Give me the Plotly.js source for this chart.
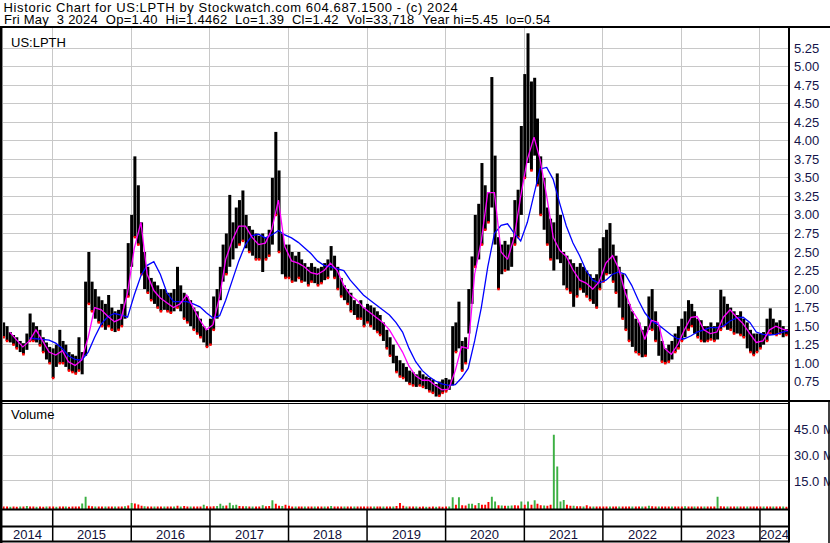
<!DOCTYPE html>
<html><head><meta charset="utf-8">
<script src="https://cdn.plot.ly/plotly-3.0.1.min.js"></script>
<style>
html,body{margin:0;padding:0;background:#fff;}#chart{width:830px;height:543px;}
g.annotation[data-index="0"] text{letter-spacing:0.6px;}
g.annotation[data-index="1"] text{letter-spacing:0.25px;}
</style>
</head><body><div id="chart"></div>
<script>
// ---------- DATA ----------
const headerLine1 = 'Historic Chart for US:LPTH by Stockwatch.com 604.687.1500 - (c) 2024';
const headerLine2 = 'Fri May  3 2024  Op=1.40  Hi=1.4462  Lo=1.39  Cl=1.42  Vol=33,718  Year hi=5.45  lo=0.54';
const symbolLabel = 'US:LPTH';
const volumeLabel = 'Volume';
const yearLabels = ['2014','2015','2016','2017','2018','2019','2020','2021','2022','2023','2024'];
const yearStarts = ['2014-01-01','2015-01-01','2016-01-01','2017-01-01','2018-01-01','2019-01-01','2020-01-01','2021-01-01','2022-01-01','2023-01-01','2024-01-01'];
const priceTicks = [0.75,1.00,1.25,1.50,1.75,2.00,2.25,2.50,2.75,3.00,3.25,3.50,3.75,4.00,4.25,4.50,4.75,5.00,5.25];
const volumeTicks = [15,30,45];
const volumeTickText = ['15.0 M','30.0 M','45.0 M'];

// half-monthly bars (3rd and 18th of each month), first = 2014-05-18, last = 2024-05-03
const firstBar = {year: 2014, month: 5, half: 1};
const priceHigh = [
 1.55,1.50,1.42,1.38,1.35,1.30,1.27,1.40,1.67,1.55,1.50,1.45,1.35,1.28,1.22,
 1.20,1.25,1.45,1.30,1.25,1.15,1.12,1.10,1.35,1.15,2.10,2.50,2.10,2.00,1.90,1.85,1.80,1.92,1.75,1.70,1.72,1.80,2.00,2.62,
 3.00,3.79,3.40,2.90,2.50,2.30,2.15,2.10,2.05,2.00,2.00,1.95,1.95,2.00,2.30,2.05,1.95,1.90,1.85,1.75,1.70,1.60,1.50,1.45,
 1.60,1.90,2.00,2.30,2.60,2.75,3.27,2.90,3.10,3.20,3.33,3.00,2.85,2.80,2.75,2.72,2.75,2.70,2.80,3.50,4.12,3.60,2.75,2.60,
 2.60,2.50,2.45,2.50,2.40,2.35,2.30,2.35,2.30,2.28,2.30,2.35,2.40,2.58,2.45,2.30,2.15,2.05,2.00,1.95,1.85,1.80,1.85,1.75,
 1.80,1.78,1.75,1.70,1.65,1.55,1.45,1.35,1.25,1.10,1.04,1.00,0.95,0.90,0.88,0.85,0.90,0.85,0.82,0.80,0.78,0.72,0.75,0.78,
 0.80,0.78,1.50,1.55,1.83,1.30,1.35,2.00,2.44,3.00,3.15,3.70,3.40,3.30,4.86,3.80,2.70,2.60,2.65,2.60,2.70,3.20,3.34,4.20,
 4.90,5.45,4.80,4.85,4.30,3.79,3.50,3.10,2.95,2.90,3.56,3.00,2.50,2.45,2.40,2.35,2.30,2.35,2.30,2.25,2.20,2.15,2.20,2.55,
 2.70,2.80,2.89,2.60,2.45,2.30,2.20,2.00,1.80,1.70,1.60,1.55,1.45,1.50,1.90,2.00,1.70,1.50,1.30,1.20,1.25,1.30,1.40,1.50,
 1.60,1.70,1.85,1.80,1.70,1.60,1.58,1.50,1.50,1.55,1.50,1.55,1.99,1.90,1.80,1.75,1.70,1.65,1.70,1.60,1.55,1.45,1.40,1.40,
 1.40,1.42,1.60,1.74,1.60,1.55,1.58,1.50,1.46
];
const priceLow = [
 1.35,1.30,1.28,1.25,1.20,1.15,1.12,1.18,1.30,1.30,1.28,1.24,1.15,1.05,1.00,
 0.80,0.95,1.00,1.00,0.95,0.90,0.88,0.86,0.90,0.85,1.10,1.80,1.70,1.60,1.55,1.50,1.45,1.50,1.45,1.42,1.45,1.50,1.60,1.90,
 2.30,2.70,2.60,2.20,2.00,1.95,1.85,1.80,1.75,1.70,1.72,1.70,1.68,1.70,1.75,1.70,1.60,1.55,1.50,1.45,1.40,1.35,1.28,1.22,
 1.25,1.45,1.60,1.85,2.10,2.20,2.30,2.40,2.55,2.60,2.65,2.55,2.50,2.45,2.40,2.40,2.23,2.40,2.45,2.60,3.00,2.50,2.20,2.15,
 2.15,2.10,2.10,2.15,2.10,2.10,2.05,2.10,2.08,2.05,2.08,2.12,2.15,2.25,2.15,2.00,1.90,1.85,1.80,1.70,1.65,1.60,1.60,1.50,
 1.55,1.50,1.45,1.42,1.38,1.30,1.20,1.10,1.00,0.88,0.82,0.80,0.75,0.72,0.70,0.68,0.70,0.68,0.65,0.62,0.60,0.55,0.56,0.60,
 0.62,0.64,0.70,1.15,1.20,0.90,1.00,1.40,1.80,2.30,2.40,2.60,2.80,2.90,3.10,2.60,2.00,2.20,2.25,2.25,2.30,2.60,2.70,3.00,
 3.50,3.70,3.60,3.80,3.40,3.00,2.80,2.60,2.40,2.25,2.40,2.35,2.05,2.00,1.95,1.76,1.90,2.00,1.95,1.90,1.85,1.80,1.75,2.00,
 2.10,2.20,2.20,2.10,1.95,1.75,1.60,1.45,1.30,1.22,1.15,1.12,1.08,1.10,1.45,1.45,1.30,1.10,1.02,1.00,1.02,1.05,1.15,1.20,
 1.30,1.35,1.45,1.50,1.40,1.35,1.30,1.28,1.30,1.32,1.30,1.32,1.45,1.50,1.45,1.45,1.40,1.40,1.38,1.35,1.20,1.15,1.11,1.15,
 1.20,1.25,1.30,1.40,1.38,1.38,1.40,1.35,1.38
];
// volume in millions, same half-monthly bars
const volume = [
 0.2,0.2,0.15,0.2,0.15,0.2,0.2,0.5,0.2,0.2,0.15,0.2,0.15,0.2,0.2,
 0.2,0.15,0.3,0.2,0.2,0.15,0.2,0.2,0.3,2.0,5.9,0.6,0.4,0.3,0.3,0.2,0.2,0.2,0.3,0.2,0.3,0.3,0.4,0.8,
 2.3,2.0,1.4,0.6,0.4,0.3,0.3,0.2,0.2,0.2,0.3,0.3,0.2,0.3,0.6,0.3,0.5,0.3,0.2,0.2,0.2,0.3,1.3,0.4,
 0.3,0.4,0.5,1.8,0.6,0.8,2.4,1.0,1.3,0.5,0.4,0.4,0.3,0.3,0.3,0.3,0.9,0.4,0.5,3.8,1.8,0.6,0.5,1.3,
 0.6,0.3,0.3,0.3,0.3,0.2,0.2,0.3,0.2,0.2,0.3,0.3,0.3,0.5,0.3,0.2,0.2,0.2,0.3,0.2,0.2,0.2,0.2,0.2,
 0.2,0.2,0.2,0.2,0.2,0.3,0.2,0.2,0.3,0.5,2.3,0.7,0.3,0.2,0.2,0.2,0.15,0.2,0.15,0.15,0.2,0.15,0.2,0.15,
 0.3,0.3,5.6,1.2,5.6,1.0,0.8,1.8,1.8,1.0,2.3,1.3,1.3,2.8,5.9,3.1,1.0,0.8,0.6,0.6,0.8,1.0,0.8,3.1,
 1.2,3.1,1.3,3.8,1.8,1.0,0.8,0.6,1.3,41.7,23.3,3.1,4.0,1.3,0.6,0.6,0.4,0.4,0.3,0.9,0.3,0.3,0.3,0.3,
 0.3,0.3,0.3,0.3,0.3,0.3,0.3,0.2,0.2,0.2,0.3,0.2,0.3,0.2,0.6,0.4,0.3,0.2,0.2,0.2,0.2,0.2,0.2,0.2,
 0.3,0.4,0.3,0.3,0.3,0.2,0.2,0.2,0.2,0.2,0.2,5.9,0.4,0.3,0.3,0.2,0.2,0.2,0.2,0.2,0.2,0.2,0.2,0.2,
 0.2,0.2,0.2,0.2,0.2,0.2,0.2,0.2,0.15
];
// g = up bar (green), r = down bar (red)
const volumeUpDown =
 'rrgrrgrgrrgrrgr' +
 'rgrrgrrrrggrrgrrgrrgrrgr' +
 'grrrgrrgrrgrrgrgrrgrrrgr' +
 'rrgggrgggrrgrgrrgrrgrrgr' +
 'rrgrrgrrgrrgrgrrrgrrgrrr' +
 'rrgrrgrrgrrrgrrgrrgrrgrr' +
 'rggrgrrggrgrrrggrgrggrrg' +
 'rgrgrrgrrggggrrgrrgrrgrr' +
 'rrgrrgrrrgrrgrgrrgrrrgrr' +
 'rgrrgrrgrrrgrrgrrgrrgrrr' +
 'rgrrgrrgr';

// monthly moving averages (mid-month), first = 2014-06
const firstMaMonth = {year: 2014, month: 6};
const maFast = [
 1.42,1.32,1.22,1.30,1.45,1.30,1.15,
 1.11,1.17,1.02,0.97,1.04,1.35,1.75,1.72,1.63,1.56,1.60,1.95,
 2.55,2.90,2.20,1.98,1.88,1.81,1.75,1.80,1.92,1.75,1.58,1.45,
 1.52,1.90,2.40,2.66,2.85,2.85,2.70,2.60,2.62,2.80,3.20,2.57,
 2.38,2.35,2.30,2.22,2.20,2.25,2.35,2.25,2.05,1.92,1.85,1.75,
 1.68,1.62,1.55,1.45,1.30,1.15,0.96,0.83,0.77,0.77,0.70,0.64,
 0.65,0.90,1.22,1.20,2.20,2.65,3.30,3.30,2.50,2.40,2.70,3.25,
 3.75,4.05,3.75,3.25,2.70,2.52,2.44,2.26,2.12,2.08,2.00,2.10,
 2.35,2.45,2.28,1.95,1.72,1.58,1.32,1.58,1.55,1.20,1.12,1.25,
 1.45,1.62,1.63,1.45,1.40,1.42,1.62,1.72,1.62,1.53,1.40,1.28,
 1.30,1.45,1.50,1.46,1.44
];
const maSlow = [
 null,null,null,1.34,1.33,1.32,1.31,
 1.27,1.20,1.10,1.05,1.04,1.15,1.35,1.53,1.63,1.67,1.65,1.62,
 1.92,2.18,2.32,2.37,2.20,1.95,1.83,1.83,1.83,1.80,1.76,1.68,
 1.61,1.64,1.85,2.12,2.38,2.60,2.72,2.74,2.69,2.73,2.79,2.73,
 2.69,2.63,2.56,2.48,2.38,2.32,2.30,2.28,2.25,2.12,2.02,1.92,
 1.85,1.78,1.72,1.65,1.55,1.42,1.20,1.02,0.90,0.82,0.76,0.72,
 0.70,0.71,0.80,0.93,1.30,1.75,2.30,2.75,2.86,2.88,2.75,2.65,
 2.90,3.30,3.62,3.64,3.48,3.15,2.85,2.62,2.45,2.25,2.12,2.08,
 2.12,2.20,2.23,2.20,2.05,1.85,1.68,1.57,1.52,1.45,1.38,1.33,
 1.33,1.37,1.42,1.45,1.48,1.48,1.50,1.57,1.61,1.62,1.55,1.42,
 1.39,1.38,1.39,1.42,1.44
];

// ---------- BUILD ----------
const pad = n => String(n).padStart(2,'0');
const barDates = [];
{ let y = firstBar.year, m = firstBar.month, h = firstBar.half;
  for (let i = 0; i < priceHigh.length; i++) {
    barDates.push(y + '-' + pad(m) + '-' + (h ? '18' : '03'));
    if (h) { h = 0; m++; if (m > 12) { m = 1; y++; } } else { h = 1; }
  } }
const maDates = [];
{ let y = firstMaMonth.year, m = firstMaMonth.month;
  for (let i = 0; i < maFast.length; i++) {
    maDates.push(y + '-' + pad(m) + '-15');
    m++; if (m > 12) { m = 1; y++; }
  } }

const W = 830, H = 543;
const px = x => x / W, py = y => 1 - y / H;
const xRange = ['2014-05-15', '2024-05-15'];
const priceRange = [0.49, 5.535];
const volRange = [-1.5, 59.8];
const DAY = 86400000;
const font = 'Liberation Sans, Arial, sans-serif';
const GRID = '#c8c8c8';
const TICKCOL = '#14144a';
const LS1 = 0.6, LS2 = 0.25; // letter spacing of the two header lines (must match the CSS above)

const downIdx = priceLow.map((v, i) => i).filter(i => volumeUpDown[i] === 'r');

const traces = [
  { type: 'bar', x: barDates, base: priceLow, y: priceHigh.map((h, i) => h - priceLow[i]),
    width: 14 * DAY, marker: { color: '#000000', line: { width: 0 } }, xaxis: 'x', yaxis: 'y', hoverinfo: 'skip' },
  { type: 'scatter', mode: 'markers', x: downIdx.map(i => barDates[i]), y: downIdx.map(i => priceLow[i]),
    marker: { color: '#ff0000', size: 2.5, symbol: 'square' }, xaxis: 'x', yaxis: 'y', hoverinfo: 'skip' },
  { type: 'scatter', mode: 'lines', x: maDates, y: maSlow, line: { color: '#0000ff', width: 1.3 },
    xaxis: 'x', yaxis: 'y', connectgaps: false, hoverinfo: 'skip' },
  { type: 'scatter', mode: 'lines', x: maDates, y: maFast, line: { color: '#ff00ff', width: 1.3 },
    xaxis: 'x', yaxis: 'y', hoverinfo: 'skip' },
  { type: 'bar', x: barDates, base: volRange[0], y: volume.map(v => v - volRange[0]),
    width: 9 * DAY,
    marker: { color: volume.map((v, i) => volumeUpDown[i] === 'g' ? '#3cb043' : '#ff0000'), line: { width: 0 } },
    xaxis: 'x2', yaxis: 'y2', hoverinfo: 'skip' }
];

// frame lines
const shapes = [];
const hline = (y, x0, x1, w) => shapes.push({ type: 'line', xref: 'paper', yref: 'paper', x0: px(x0), x1: px(x1), y0: py(y), y1: py(y), line: { color: '#000', width: w } });
const vline = (x, y0, y1, w) => shapes.push({ type: 'line', xref: 'paper', yref: 'paper', x0: px(x), x1: px(x), y0: py(y0), y1: py(y1), line: { color: '#000', width: w } });
hline(27, 0, 830, 2);
hline(401, 0, 830, 2);
hline(403.5, 0, 789, 1);
hline(509.5, 0, 789, 2);
hline(526.5, 0, 789, 2);
hline(541.5, 0, 789, 2);
vline(1.2, 26, 543, 2.5);
vline(789, 26, 542.5, 2);
vline(829, 400, 543, 1.5);
// year separators in the date strip
yearStarts.slice(1).forEach(d => shapes.push({ type: 'line', xref: 'x', yref: 'paper', x0: d, x1: d,
  y0: py(509.5), y1: py(541.5), line: { color: '#000', width: 1.5 } }));

// annotations
const nb = s => s.replace(/ /g, '\u00a0');
const annotations = [
  { text: nb(headerLine1), x: px(2 + headerLine1.length * LS1 / 2), y: py(7.5) },
  { text: nb(headerLine2), x: px(2 + headerLine2.length * LS2 / 2), y: py(19.5) },
  { text: symbolLabel, x: px(9), y: py(42) },
  { text: volumeLabel, x: px(9), y: py(414) }
].map(a => Object.assign({ xref: 'paper', yref: 'paper', xanchor: 'left', yanchor: 'middle', showarrow: false,
  font: { family: font, size: 13, color: '#000' } }, a));
const t0 = Date.parse(xRange[0]), t1 = Date.parse(xRange[1]);
yearLabels.forEach((lab, i) => {
  const a = Math.max(Date.parse(yearStarts[i]), t0);
  const b = i + 1 < yearStarts.length ? Math.min(Date.parse(yearStarts[i + 1]), t1) : t1;
  annotations.push({ text: lab, xref: 'x', yref: 'paper', x: new Date((a + b) / 2).toISOString().slice(0, 10),
    y: py(534.5), xanchor: 'center', yanchor: 'middle', showarrow: false,
    font: { family: font, size: 13, color: '#10103a' } });
});

const layout = {
  width: W, height: H, margin: { l: 0, r: 0, t: 0, b: 0 },
  paper_bgcolor: '#fff', plot_bgcolor: '#fff', showlegend: false, barmode: 'overlay',
  font: { family: font, size: 13, color: '#000' },
  xaxis: { type: 'date', domain: [px(3), px(789)], range: xRange, anchor: 'y',
    tickvals: yearStarts.slice(1), showticklabels: false, ticks: '', showgrid: true, gridcolor: GRID, gridwidth: 1,
    zeroline: false, showline: false, fixedrange: true },
  xaxis2: { type: 'date', domain: [px(3), px(789)], range: xRange, anchor: 'y2', matches: 'x',
    tickvals: yearStarts.slice(1), showticklabels: false, ticks: '', showgrid: true, gridcolor: GRID, gridwidth: 1,
    zeroline: false, showline: false, fixedrange: true },
  yaxis: { domain: [py(401), py(27)], range: priceRange, side: 'right', anchor: 'x',
    tickvals: priceTicks, tickformat: '.2f', ticks: '', ticklabelstandoff: 4, ticklabeloverflow: 'allow',
    tickfont: { family: font, size: 13, color: TICKCOL },
    showgrid: true, gridcolor: GRID, gridwidth: 1, zeroline: false, showline: false, fixedrange: true },
  yaxis2: { domain: [py(509.5), py(403.5)], range: volRange, side: 'right', anchor: 'x2',
    tickvals: volumeTicks, ticktext: volumeTickText, ticks: '', ticklabelstandoff: 4, ticklabeloverflow: 'allow',
    tickfont: { family: font, size: 13, color: TICKCOL },
    showgrid: true, gridcolor: GRID, gridwidth: 1, zeroline: false, showline: false, fixedrange: true },
  shapes: shapes, annotations: annotations
};

Plotly.newPlot('chart', traces, layout, { displayModeBar: false, staticPlot: true });
</script></body></html>
